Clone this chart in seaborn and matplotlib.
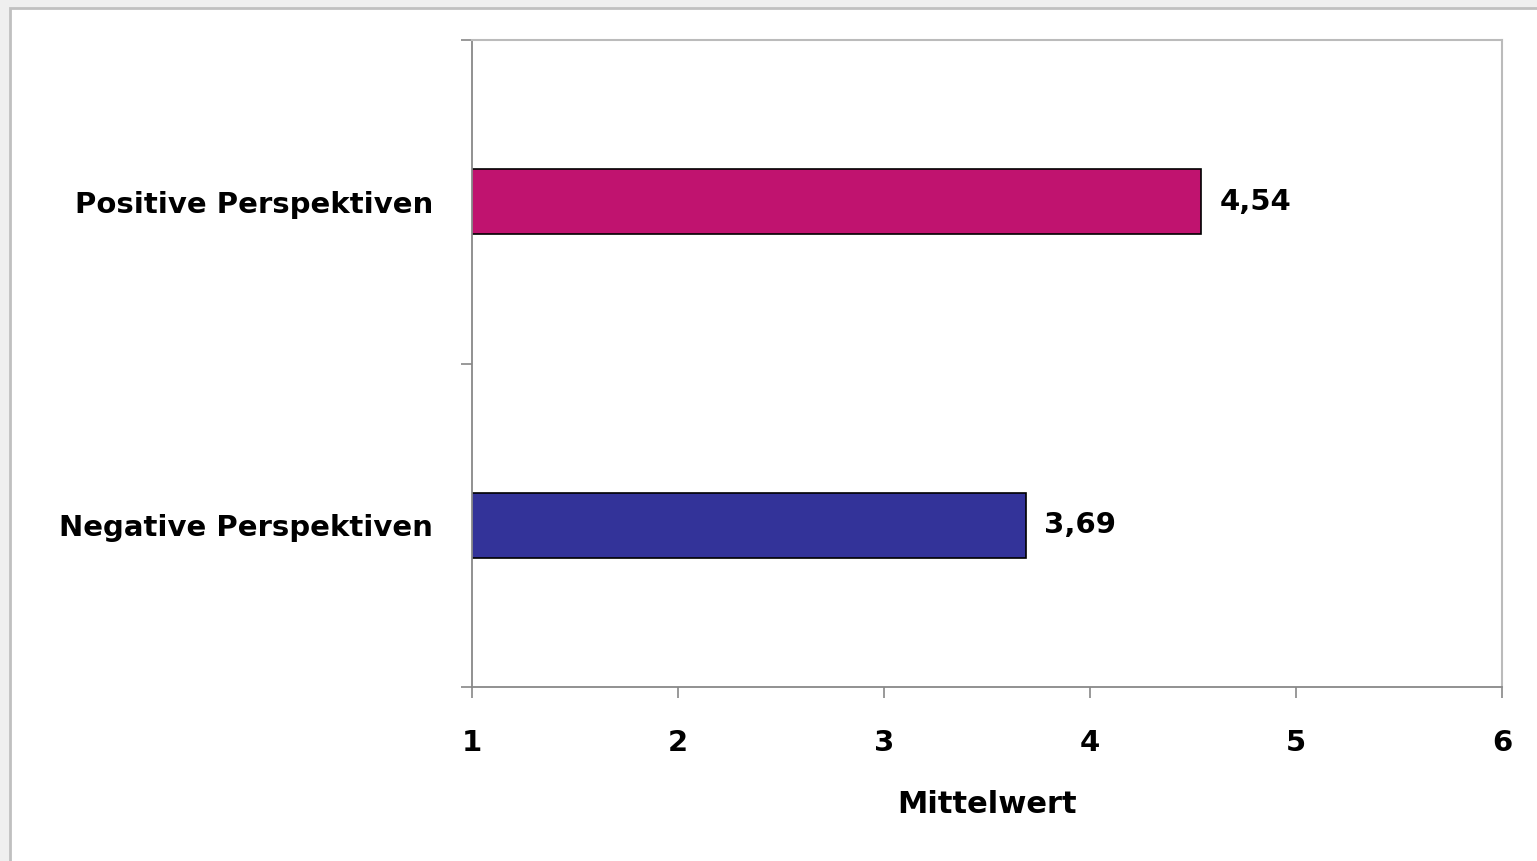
import pandas as pd
import seaborn as sns
import matplotlib.pyplot as plt
from matplotlib.patches import Rectangle

# data
kategorien = ['Positive Perspektiven', 'Negative Perspektiven']
mittelwerte = [4.54, 3.69]
farben = ['#C0136F', '#333399']
x_ticks = [1, 2, 3, 4, 5, 6]

df = pd.DataFrame({'Kategorie': kategorien, 'Mittelwert': mittelwerte})

sns.set_theme(style='white')
plt.rcParams['font.family'] = ['DejaVu Sans']

fig = plt.figure(figsize=(15.37, 8.61), dpi=100)
fig.patch.set_facecolor('#efefef')
# white sheet with grey frame
fig.patches.append(Rectangle((10 / 1537, -0.01), 1.02, 1 - 8 / 861 + 0.01,
                             transform=fig.transFigure, facecolor='white',
                             edgecolor='#c0c0c0', linewidth=2, zorder=-10))

ax = fig.add_axes([472 / 1537, 1 - 687 / 861, 1030 / 1537, 647 / 861])
ax.set_facecolor('none')
ax.set_zorder(5)

sns.barplot(data=df, x='Mittelwert', y='Kategorie', hue='Kategorie',
            palette=farben, saturation=1, orient='h', width=0.2,
            edgecolor='black', linewidth=1.2, legend=False, ax=ax)

ax.set_xlim(1, 6)
ax.set_ylim(1.5, -0.5)

# value labels with german decimal comma
for cont, v in zip(ax.containers, mittelwerte):
    ax.bar_label(cont, labels=[f'{v:.2f}'.replace('.', ',')], padding=13,
                 fontsize=21, fontweight='bold', color='black')

# x axis
ax.set_xticks(x_ticks)
ax.set_xticklabels([str(t) for t in x_ticks], fontsize=21, fontweight='bold',
                   color='black')
ax.tick_params(axis='x', direction='out', length=8, width=1.2, color='#888888',
               pad=22, bottom=True)
ax.set_xlabel('Mittelwert', fontsize=22, fontweight='bold', color='black',
              labelpad=24)

# y axis: ticks between categories, labels at centers
ax.set_yticks([-0.5, 0.5, 1.5])
ax.set_yticklabels([])
ax.set_yticks([0, 1], minor=True)
ax.set_yticklabels(kategorien, minor=True, fontsize=21, fontweight='bold',
                   color='black')
ax.tick_params(axis='y', which='major', direction='out', length=8, width=1.2,
               color='#888888', left=True)
ax.tick_params(axis='y', which='minor', length=0, pad=28)
ax.set_ylabel('')

for side in ['left', 'bottom']:
    ax.spines[side].set_color('#888888')
    ax.spines[side].set_linewidth(1.3)
for side in ['top', 'right']:
    ax.spines[side].set_color('#bbbbbb')
    ax.spines[side].set_linewidth(1.5)

fig.savefig('out.png', dpi=100, facecolor=fig.get_facecolor())
